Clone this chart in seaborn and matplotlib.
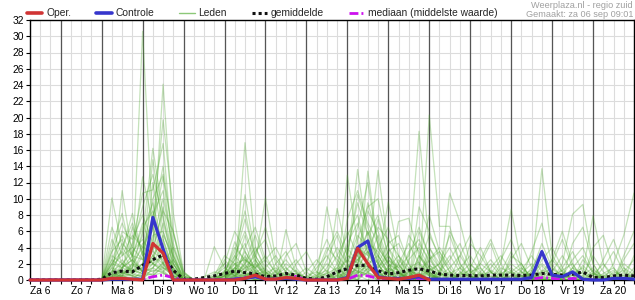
import numpy as np
import pandas as pd
import matplotlib
matplotlib.use("Agg")
import matplotlib.pyplot as plt
from matplotlib.lines import Line2D
import seaborn as sns

# ---------------- data ----------------
day_labels = ['Za 6', 'Zo 7', 'Ma 8', 'Di 9', 'Wo 10', 'Do 11', 'Vr 12', 'Za 13',
              'Zo 14', 'Ma 15', 'Di 16', 'Wo 17', 'Do 18', 'Vr 19', 'Za 20']
steps = list(range(60))  # 6-hourly steps, starting za 6 06:00

oper = [0, 0, 0, 0, 0, 0, 0, 0, 0.2, 0.2,
        0.1, 0.0, 4.5, 3.3, 0.0, 0, 0, 0, 0, 0,
        0, 0.2, 0.6, 0.1, 0.1, 0.3, 0.2, 0, 0, 0,
        0, 0.2, 3.9, 2.0, 0.3, 0.2, 0.1, 0.3, 0.6, 0.0]

controle = [0, 0, 0, 0, 0, 0, 0, 0, 0.1, 0.1,
            0.1, 0.1, 7.7, 3.8, 0.0, 0, 0, 0, 0, 0,
            0.1, 0.2, 0.4, 0.1, 0.1, 0.2, 0.1, 0, 0, 0,
            0, 0.3, 4.0, 4.8, 0.4, 0.2, 0.2, 0.2, 0.4, 0.1,
            0.1, 0.1, 0.1, 0.1, 0.1, 0.1, 0.1, 0.1, 0.1, 0.3,
            3.5, 0.6, 0.4, 1.0, 0.1, 0.0, 0.0, 0.2, 0.2, 0.1]

gemiddelde = [0, 0, 0, 0, 0, 0, 0, 0.1, 0.9, 1.1,
              1.0, 1.8, 2.5, 3.1, 1.2, 0.1, 0.1, 0.3, 0.5, 0.8,
              1.1, 0.9, 0.75, 0.4, 0.5, 0.8, 0.6, 0.2, 0.1, 0.4,
              1.0, 1.4, 1.8, 1.8, 1.15, 0.75, 0.9, 1.2, 1.4, 1.1,
              0.75, 0.6, 0.55, 0.55, 0.5, 0.6, 0.6, 0.6, 0.55, 0.6,
              0.8, 0.7, 0.6, 0.7, 1.0, 0.3, 0.3, 0.5, 0.6, 0.5]

mediaan = [0, 0, 0, 0, 0, 0, 0, 0, 0, 0,
           0, 0.1, 0.4, 0.6, 0.3, 0, 0, 0, 0, 0,
           0.1, 0.3, 0.4, 0.1, 0, 0.2, 0.45, 0, 0, 0,
           0, 0.1, 0.6, 0.5, 0.2, 0, 0, 0.1, 0.2, 0.1,
           0, 0.1, 0, 0, 0, 0.1, 0, 0, 0, 0.1,
           0.3, 0.2, 0, 0.2, 0.1, 0, 0, 0, 0.1, 0]

# ensemble members (Leden): step -> mm, all other steps 0
leden = [
    {8: 2.1, 9: 3.5, 10: 1.2, 11: 30.6, 12: 6.0, 13: 2.0, 14: 0.3, 20: 1.5, 21: 2.8, 22: 0.9, 25: 0.6, 31: 1.2, 32: 3.5, 33: 2.0, 34: 0.8, 37: 1.5, 38: 2.2, 39: 0.8, 42: 1.0, 43: 0.4, 48: 0.6, 50: 1.8, 51: 0.4, 57: 0.8},
    {8: 10.1, 9: 4.0, 10: 2.2, 11: 5.5, 12: 16.2, 13: 8.0, 14: 1.2, 19: 0.5, 20: 4.7, 21: 2.0, 24: 1.0, 25: 2.5, 26: 0.8, 30: 1.2, 31: 2.5, 32: 13.6, 33: 5.0, 34: 2.2, 35: 1.0, 39: 3.2, 40: 1.5, 41: 0.5, 46: 2.0, 47: 8.7, 48: 2.0, 53: 1.5, 54: 3.0, 55: 0.8},
    {9: 11.0, 10: 3.0, 11: 2.5, 12: 4.0, 13: 24.1, 14: 5.8, 15: 0.5, 21: 16.9, 22: 4.2, 23: 1.0, 28: 0.5, 29: 2.0, 30: 1.0, 33: 13.4, 34: 4.0, 35: 2.0, 36: 1.2, 38: 3.0, 39: 1.5, 44: 1.0, 45: 2.5, 46: 0.8, 52: 1.2, 53: 2.0, 58: 1.5, 59: 0.6},
    {8: 4.1, 9: 8.2, 10: 2.5, 11: 12.7, 12: 7.0, 13: 19.7, 14: 8.2, 15: 1.0, 18: 4.1, 19: 1.5, 20: 0.6, 22: 2.0, 23: 10.1, 24: 2.5, 25: 1.0, 31: 12.9, 32: 4.5, 33: 2.0, 34: 1.0, 37: 2.2, 38: 18.3, 39: 4.0, 40: 1.5, 43: 0.8, 44: 2.0, 45: 1.0, 50: 0.6, 51: 2.5, 52: 1.0},
    {8: 1.0, 9: 3.7, 10: 8.2, 11: 3.0, 12: 14.8, 13: 6.0, 14: 2.0, 20: 1.2, 21: 10.5, 22: 3.0, 23: 1.0, 26: 0.5, 29: 9.0, 30: 3.0, 31: 1.5, 32: 4.0, 33: 3.0, 34: 13.5, 35: 4.0, 36: 1.0, 39: 20.3, 40: 6.6, 41: 6.6, 42: 2.0, 43: 0.5, 47: 1.0, 48: 0.5, 55: 1.2, 56: 0.5},
    {8: 2.5, 9: 1.5, 10: 4.5, 11: 10.7, 12: 11.1, 13: 16.8, 14: 3.0, 19: 2.5, 20: 1.0, 21: 3.5, 22: 1.2, 25: 6.2, 26: 1.5, 30: 8.8, 31: 3.0, 32: 2.0, 33: 6.0, 34: 2.5, 35: 9.6, 36: 3.0, 37: 1.0, 41: 10.7, 42: 7.1, 43: 2.0, 44: 0.8, 49: 1.0, 50: 13.7, 51: 3.0, 52: 1.0, 57: 2.0, 58: 5.5, 59: 10.7},
    {8: 0.5, 9: 1.0, 10: 2.0, 11: 4.0, 12: 6.5, 13: 12.7, 14: 5.8, 15: 0.8, 20: 0.5, 21: 1.5, 22: 2.0, 23: 0.8, 27: 0.5, 28: 1.0, 29: 0.5, 31: 4.5, 32: 7.0, 33: 3.5, 34: 1.2, 36: 7.2, 37: 7.6, 38: 3.0, 39: 1.0, 45: 1.5, 46: 3.0, 47: 1.0, 52: 2.0, 53: 8.1, 54: 9.3, 55: 2.0},
    {8: 3.0, 9: 2.0, 10: 1.0, 11: 1.5, 12: 3.0, 13: 5.0, 14: 1.0, 17: 0.4, 18: 1.0, 19: 0.6, 20: 2.5, 21: 4.5, 22: 1.0, 24: 2.0, 25: 3.5, 26: 1.0, 32: 2.0, 33: 8.5, 34: 6.0, 35: 2.5, 36: 1.0, 38: 1.8, 39: 5.5, 40: 3.0, 41: 1.0, 47: 0.6, 48: 1.5, 49: 0.5, 54: 1.0, 55: 7.9, 56: 2.0, 57: 0.5},
    {8: 1.5, 9: 6.0, 10: 5.0, 11: 8.0, 12: 4.5, 13: 2.0, 14: 0.5, 19: 1.0, 20: 3.0, 21: 6.0, 22: 2.5, 23: 0.5, 29: 1.5, 30: 4.0, 31: 2.0, 32: 5.5, 33: 4.0, 34: 2.0, 37: 3.5, 38: 5.0, 39: 2.0, 42: 1.5, 43: 3.0, 44: 1.0, 50: 2.5, 51: 4.0, 52: 1.5, 58: 1.0, 59: 2.5},
    {9: 0.8, 10: 1.5, 11: 6.0, 12: 9.5, 13: 4.0, 14: 1.5, 21: 1.0, 22: 3.5, 23: 5.0, 24: 1.0, 31: 0.8, 32: 2.5, 33: 1.5, 34: 4.0, 35: 6.5, 36: 2.0, 40: 1.0, 41: 2.5, 42: 4.5, 43: 1.5, 48: 1.2, 49: 3.0, 50: 1.0, 56: 0.8, 57: 1.5},
    {8: 0.8, 9: 2.5, 10: 1.0, 11: 2.0, 12: 5.0, 13: 10.0, 14: 4.0, 15: 0.5, 19: 0.5, 20: 1.5, 21: 0.8, 25: 1.2, 26: 2.5, 27: 0.5, 30: 2.0, 31: 6.0, 32: 3.0, 33: 1.0, 35: 1.5, 36: 3.0, 37: 1.5, 44: 2.0, 45: 4.5, 46: 1.0, 51: 1.0, 52: 3.0, 53: 1.0, 59: 1.0},
    {8: 2.0, 9: 4.5, 10: 3.0, 11: 1.0, 12: 2.5, 13: 7.0, 14: 2.5, 18: 0.5, 19: 3.0, 20: 2.0, 21: 0.5, 22: 0.8, 27: 1.0, 28: 2.5, 29: 1.0, 31: 1.5, 32: 3.0, 33: 9.5, 34: 5.0, 35: 1.5, 38: 6.0, 39: 3.0, 40: 0.8, 46: 0.5, 47: 2.0, 48: 1.0, 54: 2.5, 55: 1.0},
    {9: 1.2, 10: 6.5, 11: 3.5, 12: 2.0, 13: 3.0, 14: 1.0, 20: 2.0, 21: 2.5, 22: 1.5, 23: 3.0, 24: 0.8, 30: 0.5, 31: 3.0, 32: 10.5, 33: 6.5, 34: 3.0, 35: 0.8, 39: 1.0, 40: 2.0, 41: 5.5, 42: 2.0, 49: 0.8, 50: 2.0, 51: 1.0, 58: 2.5, 59: 4.5},
    {8: 5.0, 9: 2.0, 10: 0.8, 11: 3.0, 12: 8.0, 13: 11.0, 14: 3.5, 19: 0.8, 20: 0.5, 21: 2.0, 22: 4.0, 23: 1.5, 28: 0.8, 29: 4.0, 30: 2.5, 31: 1.0, 33: 2.5, 34: 7.5, 35: 3.0, 36: 1.0, 38: 2.5, 39: 8.0, 40: 3.5, 41: 1.0, 46: 1.0, 47: 3.5, 48: 1.0, 53: 0.8, 54: 1.5},
    {8: 1.0, 9: 2.0, 10: 3.5, 11: 5.0, 12: 3.0, 13: 1.5, 14: 0.5, 20: 1.0, 21: 3.0, 22: 1.0, 24: 0.5, 25: 2.0, 26: 1.0, 31: 2.0, 32: 6.5, 33: 12.0, 34: 4.0, 35: 2.0, 37: 1.0, 38: 1.5, 39: 0.5, 43: 1.5, 44: 4.0, 45: 1.0, 52: 0.5, 53: 2.5, 54: 4.0, 55: 1.0},
    {9: 1.5, 10: 1.0, 11: 2.0, 12: 5.5, 13: 6.0, 14: 2.0, 19: 1.0, 20: 4.0, 21: 2.5, 22: 0.5, 26: 0.5, 27: 1.5, 28: 0.5, 32: 1.5, 33: 3.5, 34: 2.0, 35: 4.5, 36: 5.5, 37: 2.0, 40: 0.5, 41: 1.5, 42: 3.0, 43: 1.0, 49: 1.0, 50: 4.5, 51: 1.5, 56: 1.5, 57: 3.5, 58: 1.0},
    {8: 0.5, 9: 1.5, 10: 2.5, 11: 1.0, 12: 4.0, 13: 8.5, 14: 6.0, 15: 1.0, 21: 0.5, 22: 1.5, 23: 2.5, 24: 1.0, 30: 1.5, 31: 4.0, 32: 2.0, 33: 5.0, 34: 3.0, 35: 1.0, 37: 2.5, 38: 4.0, 39: 1.5, 45: 0.8, 46: 2.5, 47: 5.0, 48: 1.5, 53: 1.0},
    {8: 3.5, 9: 5.0, 10: 2.0, 11: 1.5, 12: 12.0, 13: 5.0, 14: 1.5, 19: 0.5, 20: 1.0, 21: 5.5, 22: 2.0, 23: 0.5, 25: 1.0, 29: 2.5, 30: 5.5, 31: 2.0, 32: 1.0, 33: 4.5, 34: 3.5, 35: 1.5, 36: 0.8, 39: 2.5, 40: 4.0, 41: 2.0, 48: 0.8, 49: 2.0, 50: 0.5, 54: 0.5, 55: 3.0, 56: 1.0},
    {9: 0.5, 10: 1.0, 11: 3.5, 12: 2.0, 13: 4.5, 14: 1.2, 18: 0.5, 19: 1.5, 20: 0.5, 22: 1.0, 23: 1.5, 24: 3.0, 25: 1.0, 31: 1.0, 32: 4.0, 33: 2.5, 34: 5.5, 35: 2.0, 36: 1.0, 38: 3.0, 39: 1.0, 42: 0.8, 43: 2.0, 44: 0.5, 51: 2.0, 52: 5.0, 53: 1.5, 59: 1.5},
    {8: 1.8, 9: 3.0, 10: 4.0, 11: 2.5, 12: 6.5, 13: 3.0, 14: 1.0, 20: 0.8, 21: 2.0, 22: 5.5, 23: 2.0, 24: 0.5, 28: 1.5, 29: 3.0, 30: 1.0, 32: 3.0, 33: 6.0, 34: 2.0, 36: 2.0, 37: 4.5, 38: 2.0, 39: 0.5, 44: 0.5, 45: 2.0, 46: 0.5, 49: 1.5, 50: 3.5, 51: 1.0, 58: 0.8},
    {8: 0.6, 9: 1.2, 10: 0.8, 11: 2.0, 12: 3.5, 13: 2.5, 14: 0.5, 20: 0.6, 21: 1.8, 22: 0.8, 25: 0.5, 26: 1.2, 32: 1.0, 33: 2.5, 34: 1.5, 35: 3.0, 36: 1.0, 39: 1.5, 40: 0.6, 46: 0.8, 47: 1.5, 48: 0.5, 55: 0.6, 56: 2.0},
    {9: 0.5, 10: 2.0, 11: 1.0, 12: 1.5, 13: 3.5, 14: 2.0, 19: 0.4, 20: 1.5, 21: 1.0, 22: 2.5, 23: 0.8, 30: 0.6, 31: 2.5, 32: 1.5, 33: 1.0, 34: 2.0, 37: 0.8, 38: 2.0, 39: 0.6, 43: 1.0, 44: 1.5, 50: 0.8, 51: 1.5, 52: 0.5, 58: 2.0, 59: 1.0},
    {8: 1.2, 9: 0.8, 10: 1.5, 11: 4.5, 12: 2.0, 13: 1.0, 18: 0.8, 19: 2.0, 20: 1.0, 23: 0.8, 24: 1.5, 25: 0.5, 29: 0.8, 30: 1.5, 31: 0.5, 33: 1.5, 34: 1.0, 35: 2.5, 36: 1.5, 40: 1.2, 41: 3.0, 42: 1.0, 48: 0.5, 49: 1.2, 53: 1.5, 54: 0.8},
    {8: 0.3, 9: 1.5, 10: 2.5, 11: 1.0, 12: 2.5, 13: 5.5, 14: 3.0, 15: 0.3, 21: 2.5, 22: 1.5, 26: 0.8, 27: 0.3, 31: 1.5, 32: 2.5, 33: 3.5, 34: 1.0, 36: 2.5, 37: 1.0, 39: 1.8, 40: 1.0, 45: 1.2, 46: 0.5, 51: 0.5, 52: 1.2, 57: 1.0, 58: 0.5},
    {9: 2.0, 10: 1.2, 11: 0.8, 12: 3.0, 13: 2.0, 14: 4.0, 15: 0.8, 20: 1.2, 21: 0.8, 22: 0.5, 24: 1.2, 25: 0.5, 28: 0.6, 29: 1.2, 32: 0.8, 33: 2.0, 34: 3.0, 35: 1.0, 38: 1.0, 39: 2.5, 40: 1.0, 42: 0.8, 43: 0.5, 47: 1.0, 48: 2.0, 54: 0.6, 55: 1.5},
    {8: 0.8, 9: 0.5, 10: 0.5, 11: 1.5, 12: 1.0, 13: 2.0, 14: 0.8, 19: 1.2, 20: 0.5, 21: 0.5, 22: 1.2, 23: 0.5, 31: 0.8, 32: 1.2, 33: 0.6, 34: 0.5, 35: 1.2, 37: 1.2, 38: 0.5, 41: 0.8, 42: 1.5, 43: 0.5, 50: 1.0, 51: 0.5, 56: 0.5, 57: 1.2},
    {9: 0.6, 10: 1.8, 11: 1.2, 12: 2.0, 13: 1.5, 14: 0.6, 21: 0.8, 22: 0.6, 23: 1.2, 24: 0.5, 30: 1.0, 31: 1.2, 32: 0.8, 33: 1.8, 34: 1.0, 36: 0.6, 37: 0.5, 38: 1.2, 39: 0.8, 44: 0.8, 45: 0.4, 52: 0.8, 53: 0.5, 59: 0.8},
    {8: 1.5, 9: 1.0, 10: 0.5, 12: 1.5, 13: 3.0, 14: 1.5, 18: 0.3, 19: 0.8, 20: 2.0, 21: 1.2, 25: 0.8, 26: 0.3, 32: 1.8, 33: 1.2, 34: 2.5, 35: 0.8, 39: 1.2, 40: 2.0, 41: 0.6, 46: 1.5, 47: 0.8, 49: 0.5, 54: 1.8, 55: 0.5},
    {9: 0.8, 10: 0.6, 11: 0.5, 12: 1.2, 13: 1.0, 14: 2.5, 15: 0.5, 20: 0.3, 21: 1.0, 22: 1.8, 23: 0.6, 29: 0.5, 30: 0.8, 31: 1.8, 32: 1.0, 33: 0.8, 35: 1.0, 36: 1.8, 37: 0.6, 42: 0.6, 43: 1.2, 48: 1.0, 49: 0.4, 57: 0.5, 58: 1.2},
    {8: 0.4, 9: 1.0, 10: 1.2, 11: 0.8, 12: 0.6, 13: 1.5, 14: 1.0, 19: 0.5, 20: 0.8, 21: 0.4, 24: 0.6, 25: 1.5, 26: 0.5, 31: 0.6, 32: 1.5, 33: 2.2, 34: 0.8, 37: 1.0, 38: 0.8, 40: 0.5, 41: 1.0, 47: 0.5, 50: 1.2, 51: 0.8, 55: 0.8, 56: 0.4},
    {8: 0.7, 9: 0.4, 11: 0.6, 12: 2.0, 13: 1.2, 20: 0.5, 21: 1.5, 22: 0.4, 28: 0.4, 29: 0.8, 31: 0.5, 33: 1.0, 34: 1.8, 35: 0.5, 38: 0.6, 39: 1.0, 44: 0.6, 45: 1.0, 52: 0.6, 53: 1.0, 58: 0.6},
    {9: 0.3, 10: 0.8, 11: 0.4, 12: 0.8, 13: 2.2, 14: 0.8, 19: 0.6, 20: 0.3, 22: 0.6, 23: 1.0, 30: 0.4, 31: 1.0, 32: 0.6, 34: 0.8, 35: 1.5, 36: 0.5, 40: 0.8, 41: 0.4, 46: 0.4, 47: 1.2, 54: 0.4, 55: 0.8},
    {8: 0.4, 10: 0.3, 11: 0.8, 12: 1.5, 13: 0.8, 14: 0.3, 21: 0.6, 22: 0.3, 25: 0.4, 26: 0.8, 32: 0.5, 33: 1.4, 34: 0.6, 37: 0.4, 38: 0.9, 43: 0.3, 44: 0.7, 49: 0.6, 50: 0.3, 56: 0.6, 57: 0.3},
    {9: 0.9, 10: 0.5, 12: 0.5, 13: 1.8, 14: 0.5, 18: 0.4, 19: 0.3, 20: 1.0, 21: 0.5, 31: 0.4, 32: 1.0, 33: 0.5, 35: 0.6, 36: 0.9, 39: 0.6, 40: 0.3, 45: 0.5, 51: 0.4, 52: 0.8, 59: 0.5},
    {8: 0.3, 9: 0.6, 11: 1.2, 12: 0.6, 13: 0.9, 20: 0.4, 22: 0.9, 23: 0.4, 29: 0.3, 30: 0.6, 32: 0.4, 33: 0.9, 34: 0.4, 38: 0.4, 39: 0.7, 42: 0.5, 48: 0.4, 53: 0.6, 54: 0.3},
    {8: 2.5, 9: 5.5, 10: 3.0, 11: 7.0, 12: 3.5, 13: 9.0, 14: 2.5, 20: 2.5, 21: 7.5, 22: 3.0, 23: 1.0, 29: 1.0, 30: 3.0, 31: 5.5, 32: 8.0, 33: 3.0, 34: 1.5, 35: 3.5, 36: 4.5, 37: 2.0, 39: 4.0, 40: 2.0, 41: 4.0, 42: 1.5, 47: 2.5, 48: 4.5, 49: 1.5, 56: 2.5, 57: 5.0, 58: 1.5},
    {8: 6.5, 9: 3.0, 10: 5.5, 11: 4.0, 12: 7.5, 13: 14.0, 14: 4.5, 15: 0.5, 19: 2.0, 20: 6.0, 21: 3.5, 22: 1.5, 25: 3.0, 26: 4.5, 27: 1.0, 31: 7.5, 32: 11.0, 33: 7.0, 34: 4.5, 35: 2.0, 37: 5.5, 38: 3.5, 39: 1.0, 43: 4.5, 44: 3.0, 45: 1.0, 50: 1.0, 51: 2.5, 52: 6.0, 53: 2.0, 59: 3.0},
    {8: 3.5, 9: 7.0, 10: 4.0, 11: 9.0, 12: 13.0, 13: 7.5, 14: 3.0, 21: 4.0, 22: 6.5, 23: 2.5, 24: 4.0, 25: 1.5, 28: 2.0, 29: 5.0, 30: 2.0, 32: 5.0, 33: 9.0, 34: 10.0, 35: 4.0, 36: 2.0, 38: 9.0, 39: 6.0, 40: 2.5, 42: 3.0, 43: 5.5, 44: 1.5, 49: 3.5, 50: 7.0, 51: 2.0, 55: 4.0, 56: 5.5, 57: 1.5},
    {8: 1.0, 9: 4.0, 10: 7.0, 11: 3.0, 12: 10.0, 13: 13.0, 14: 2.0, 19: 1.0, 20: 3.5, 21: 8.5, 22: 2.5, 26: 2.0, 27: 3.5, 28: 1.0, 31: 3.5, 32: 9.5, 33: 5.5, 34: 8.0, 35: 3.0, 36: 1.5, 37: 3.0, 38: 6.5, 39: 3.0, 41: 6.0, 42: 3.5, 43: 1.0, 47: 3.0, 48: 2.0, 53: 4.5, 54: 6.5, 55: 2.0},
    {8: 2.0, 9: 1.5, 10: 3.0, 11: 6.5, 12: 8.5, 13: 4.0, 14: 1.0, 20: 3.0, 21: 1.5, 22: 3.0, 23: 6.5, 24: 2.0, 29: 3.5, 30: 6.0, 31: 3.0, 32: 2.5, 33: 4.0, 34: 6.5, 35: 5.0, 36: 3.0, 38: 4.5, 39: 2.5, 40: 3.5, 41: 1.5, 44: 2.5, 45: 5.0, 46: 2.0, 52: 1.5, 53: 3.5, 54: 1.0, 58: 3.0, 59: 6.0},
]

# ---------------- styling ----------------
sns.set_theme(style="white")
plt.rcParams['font.family'] = ['Liberation Sans', 'DejaVu Sans']

C_RED = '#d03434'
C_BLUE = '#3636cc'
C_GREEN = '#4ea72e'
C_MAG = '#cc11ee'
LED_ALPHA = 0.33

W, H = 635, 300
fig = plt.figure(figsize=(W / 100, H / 100), dpi=100)
ax = fig.add_axes([30 / W, 20 / H, 604 / W, 260 / H])

rows = []
for m, d in enumerate(leden):
    for s in steps:
        rows.append((m, s, d.get(s, 0.0)))
df_leden = pd.DataFrame(rows, columns=['lid', 'stap', 'mm'])

sns.lineplot(data=df_leden, x='stap', y='mm', units='lid', estimator=None,
             color=C_GREEN, alpha=LED_ALPHA, lw=0.9, ax=ax, legend=False, zorder=3)
sns.lineplot(x=steps, y=mediaan, color=C_MAG, lw=2.0,
             linestyle=(0, (3.2, 1.1, 0.7, 1.1)), ax=ax, zorder=4)
sns.lineplot(x=steps, y=gemiddelde, color='#111111', lw=2.2,
             linestyle=(0, (1, 1)), ax=ax, zorder=5)
sns.lineplot(x=steps, y=controle, color=C_BLUE, lw=2.3, ax=ax, zorder=6,
             clip_on=False)
sns.lineplot(x=steps[:len(oper)], y=oper, color=C_RED, lw=2.3, ax=ax, zorder=7,
             clip_on=False)

# axes
ax.set_xlim(0, 59)
ax.set_ylim(0, 32)
ax.set_yticks(range(0, 33, 2))
ax.set_xticks(steps)
xl = []
for s in steps:
    if (s - 1) % 4 == 0 and (s - 1) // 4 < len(day_labels):
        xl.append(day_labels[(s - 1) // 4])
    else:
        xl.append('')
ax.set_xticklabels(xl)
ax.set_xlabel('')
ax.set_ylabel('')
ax.grid(True, color='#dcdcdc', lw=0.8)
ax.set_axisbelow(True)
for k in range(len(day_labels) - 1):
    ax.axvline(3 + 4 * k, color='#555555', lw=0.9, zorder=2)
for sp in ax.spines.values():
    sp.set_color('black')
    sp.set_linewidth(1.0)
    sp.set_visible(True)
ax.tick_params(axis='both', direction='out', length=3, width=0.8, color='black',
               labelsize=7.4, pad=1.5, labelcolor='black')
ax.tick_params(axis='x', bottom=True)
ax.tick_params(axis='y', left=True)

# legend
handles = [
    Line2D([], [], color=C_RED, lw=2.6),
    Line2D([], [], color=C_BLUE, lw=2.6),
    Line2D([], [], color='#8cc878', lw=1.0),
    Line2D([], [], color='#111111', lw=2.2, linestyle=(0, (1, 1))),
    Line2D([], [], color=C_MAG, lw=2.0, linestyle=(0, (3.2, 1.1, 0.7, 1.1))),
]
labels = ['Oper.', 'Controle', 'Leden', 'gemiddelde', 'mediaan (middelste waarde)']
fig.legend(handles, labels, loc='center left', bbox_to_anchor=(27 / W, 1 - 13.5 / H),
           ncol=5, frameon=False, fontsize=7.4, handlelength=1.5, handletextpad=0.35,
           columnspacing=2.45, borderpad=0, borderaxespad=0)

fig.text(633 / W, 1 - 5 / H, 'Weerplaza.nl - regio zuid', ha='right', va='center',
         fontsize=6.6, color='#a0a0a0')
fig.text(633 / W, 1 - 14.5 / H, 'Gemaakt: za 06 sep 09:01', ha='right', va='center',
         fontsize=6.6, color='#a0a0a0')

fig.savefig('out.png', dpi=100, facecolor='white')
